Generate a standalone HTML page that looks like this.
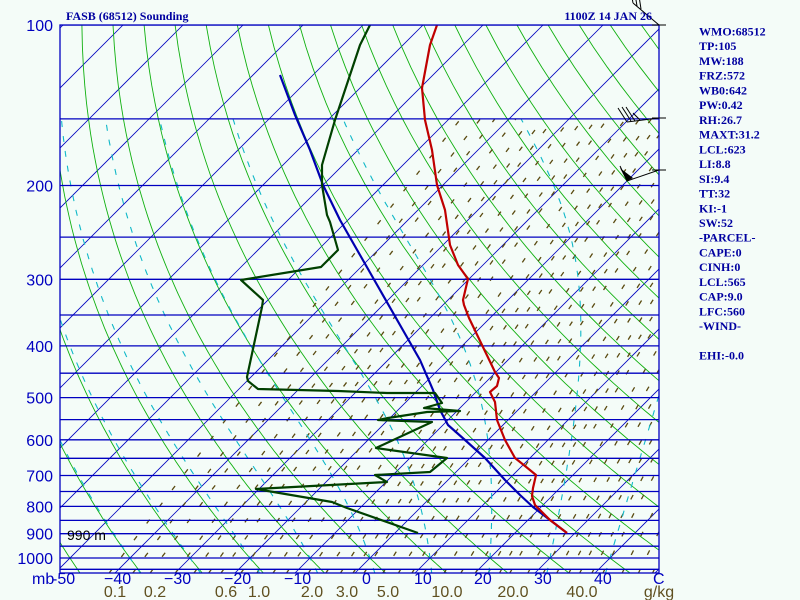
<!DOCTYPE html>
<html><head><meta charset="utf-8">
<style>
html,body{margin:0;padding:0;background:#f4fcf8;}
svg{display:block;}
.st{font-family:"Liberation Serif",serif;font-weight:bold;font-size:12px;fill:#0000a0;}
.ax{font-family:"Liberation Sans",sans-serif;font-size:16px;fill:#0000c0;}
.mr{font-family:"Liberation Sans",sans-serif;font-size:16px;fill:#605020;}
</style></head><body>
<svg id="s" width="800" height="600" xmlns="http://www.w3.org/2000/svg">
<rect width="800" height="600" fill="#f4fcf8"/>
<defs><clipPath id="c"><rect x="60" y="25" width="599" height="548"/></clipPath></defs>
<g id="bg" clip-path="url(#c)"></g>
<g id="fg" clip-path="url(#c)" fill="none" stroke-width="2.2" stroke-linejoin="round">
<polyline stroke="#0000b0" points="280,75 295,115 310,150 323,185 340,220 360,255 380,290 400,325 420,360 433,390 440,410 448,425 465,440 485,458 505,480 520,495 533,507 550,520 567,533"/>
<polyline stroke="#c00000" points="437,25 430,45 422,88 425,120 432,150 437,185 445,210 450,245 458,265 468,279 467,283 463,300 464,305 469,318 482,345 495,372 499,378 497,386 490,392 495,402 497,420 505,440 515,458 525,466 536,475 533,488 532,496 535,505 550,520 567,533"/>
<polyline stroke="#004000" points="370,25 360,45 345,90 335,120 322,165 322,185 327,215 330,222 338,250 321,267 241,280 263,300 262,307 247,377 248,381 258,389 338,391 387,393 435,393 442,403 424,408 460,411 427,412 388,418 378,420 432,422 376,448 447,458 430,472 375,475 387,482 256,489 332,502 347,508 418,533"/>
</g>
<rect x="60" y="25" width="599" height="548" fill="none" stroke="#0000c0" stroke-width="1.3"/>
<g stroke="#000" stroke-width="1" fill="none">
<line x1="659" y1="25" x2="633" y2="3"/><line x1="633" y1="3" x2="631" y2="-8"/><line x1="637" y1="6" x2="635" y2="-6"/><line x1="641" y1="9" x2="639" y2="-4"/>
<line x1="652" y1="25" x2="666" y2="25"/>
<line x1="659" y1="118" x2="627" y2="122"/><line x1="627" y1="122" x2="618" y2="108"/><line x1="631" y1="121" x2="622" y2="107"/><line x1="635" y1="121" x2="626" y2="107"/><line x1="640" y1="120" x2="633" y2="113"/>
<line x1="652" y1="118" x2="666" y2="118"/>
<line x1="659" y1="170" x2="627" y2="181"/><line x1="627" y1="181" x2="620" y2="166"/>
<line x1="652" y1="170" x2="666" y2="170"/>
</g>
<polygon points="627,181 620,168 633,178" fill="#000"/>
<text x="66" y="20" class="st">FASB (68512) Sounding</text>
<text x="652" y="20" class="st" text-anchor="end">1100Z 14 JAN 26</text>
<g class="st" id="rt"></g>
<g class="ax" text-anchor="end" id="pl"></g>
<text x="67" y="540" font-family="Liberation Sans,sans-serif" font-size="14" fill="#000">990 m</text>
<g class="ax">
<text x="32" y="584">mb</text><text x="52" y="584">-50</text>
<text x="104" y="584">−40</text><text x="164" y="584">−30</text><text x="224" y="584">−20</text><text x="284" y="584">−10</text>
<text x="362" y="584">0</text><text x="414" y="584">10</text><text x="474" y="584">20</text><text x="534" y="584">30</text><text x="594" y="584">40</text><text x="653" y="584">C</text>
</g>
<g class="mr" text-anchor="middle">
<text x="115" y="597">0.1</text><text x="155" y="597">0.2</text><text x="226" y="597">0.6</text><text x="259" y="597">1.0</text>
<text x="312" y="597">2.0</text><text x="347" y="597">3.0</text><text x="388" y="597">5.0</text><text x="447" y="597">10.0</text>
<text x="513" y="597">20.0</text><text x="582" y="597">40.0</text><text x="659" y="597">g/kg</text>
</g>
</svg>
<script>
(function(){
var NS="http://www.w3.org/2000/svg";
function Y(p){return 25+231.5*Math.log(p/100);}
function X(T,p){return 370+6*T+(558-Y(p));}
var bg=document.getElementById('bg');
function pl(pts,attrs){var e=document.createElementNS(NS,'polyline');e.setAttribute('points',pts.map(function(a){return a[0].toFixed(1)+','+a[1].toFixed(1)}).join(' '));e.setAttribute('fill','none');for(var k in attrs)e.setAttribute(k,attrs[k]);bg.appendChild(e);}
function ln(x1,y1,x2,y2,attrs){pl([[x1,y1],[x2,y2]],attrs);}
for(var T=-200;T<=60;T+=10){ln(X(T,1070),Y(1070),X(T,95),Y(95),{stroke:'#0000c0','stroke-width':'0.8'});}
for(var th=-60;th<=220;th+=10){var a=[];for(var p=1070;p>=95;p-=10){var t=(th+273.15)*Math.pow(p/1000,0.2857)-273.15;a.push([X(t,p),Y(p)]);}pl(a,{stroke:'#10b010','stroke-width':'0.9'});}
function es(t){return 6.112*Math.exp(17.67*t/(t+243.5));}
var ws=[0.1,0.15,0.2,0.3,0.4,0.5,0.6,0.8,1,1.25,1.5,2,2.5,3,3.5,4,5,6,7,8,10,12,14,16,18,20,24,28,32,36,40,45,50,60,70,80];
ws.forEach(function(w){var a=[];for(var p=1070;p>=150;p-=10){var e=w*p/(622+w);var L=Math.log(e/6.112);var t=243.5*L/(17.67-L);a.push([X(t,p),Y(p)]);}pl(a,{stroke:'#5a4a10','stroke-width':'1.3','stroke-dasharray':'5,16'});});
function dTdp(t,p){var T=t+273.15;var e=es(t);var rs=0.622*e/(p-e);var Rd=287,cp=1004,Lv=2.5e6;return (Rd*T+Lv*rs)/(p*(cp+Lv*Lv*rs*0.622/(Rd*T*T)));}
for(var t0=-40;t0<=40;t0+=10){var t=t0,p=1000;while(p<1070){t+=dTdp(t,p)*2;p+=2;}var a=[];for(p=1070;p>=150;p-=2){a.push([X(t,p),Y(p)]);t-=dTdp(t,p)*2;}pl(a,{stroke:'#10b8c8','stroke-width':'1.1','stroke-dasharray':'6,9'});}
for(var p=100;p<=1050;p+=50){var y=Y(p);ln(60,y,659,y,{stroke:'#0000c0','stroke-width':'1.3'});}
var g=document.getElementById('pl');
[100,200,300,400,500,600,700,800,900,1000].forEach(function(p){var t=document.createElementNS(NS,'text');t.setAttribute('x',53);t.setAttribute('y',(Y(p)+6).toFixed(1));t.textContent=p;g.appendChild(t);});
var rows=["WMO:68512","TP:105","MW:188","FRZ:572","WB0:642","PW:0.42","RH:26.7","MAXT:31.2","LCL:623","LI:8.8","SI:9.4","TT:32","KI:-1","SW:52","-PARCEL-","CAPE:0","CINH:0","LCL:565","CAP:9.0","LFC:560","-WIND-","","EHI:-0.0"];
var r=document.getElementById('rt');
rows.forEach(function(s,i){if(!s)return;var t=document.createElementNS(NS,'text');t.setAttribute('x',699);t.setAttribute('y',(35.5+i*14.73).toFixed(1));t.textContent=s;r.appendChild(t);});
})();
</script>
</body></html>
